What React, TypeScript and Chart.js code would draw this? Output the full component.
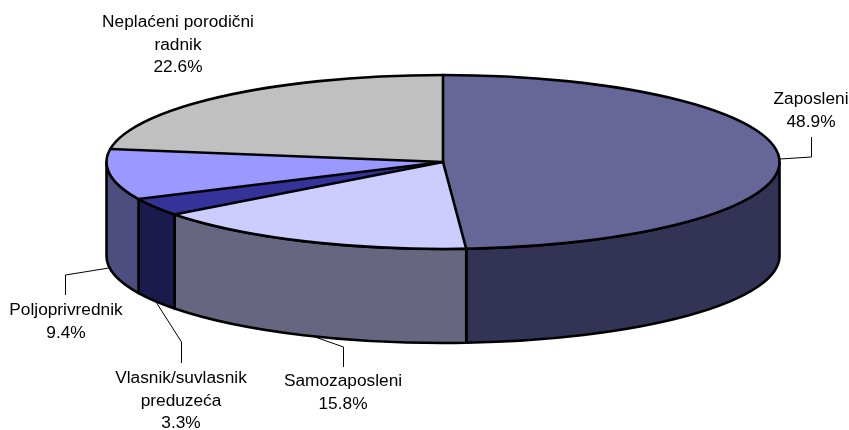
import React, { useEffect, useRef } from "react";
import { Chart, registerables } from "chart.js";

Chart.register(...registerables);

const categories = ["Zaposleni", "Samozaposleni", "Vlasnik/suvlasnik preduzeća", "Poljoprivrednik", "Neplaćeni porodični radnik"];
const labelLines = [["Zaposleni"], ["Samozaposleni"], ["Vlasnik/suvlasnik", "preduzeća"], ["Poljoprivrednik"], ["Neplaćeni porodični", "radnik"]];
const shares = [48.9, 15.8, 3.3, 9.4, 22.6];
const topColors = ["#666699", "#CCCCFF", "#333399", "#9999FF", "#C0C0C0"];
const wallColors = ["#333355", "#666680", "#1A1A4D", "#4D4D80", "#606060"];

const CX = 443;
const CY = 162;
const RX = 336.5;
const RY = 87;
const DEPTH = 94;
const labelAnchors = [
  { x: 811, y: 99 },
  { x: 343, y: 381 },
  { x: 181, y: 378 },
  { x: 66, y: 310 },
  { x: 178, y: 22 },
];
const leaders = [
  [[780, 159], [811.5, 157], [811.5, 137]],
  [[315, 337], [343.5, 347], [343.5, 367]],
  [[156, 302], [181.5, 342], [181.5, 363]],
  [[109, 268], [65.5, 275], [65.5, 295]],
];

const threeD = {
  id: "threeD",
  beforeDatasetsDraw(chart: any) {
    const { ctx } = chart;
    const arcs = chart.getDatasetMeta(0).data;
    ctx.save();
    ctx.lineJoin = "round";
    arcs.forEach((arc: any, i: number) => {
      const s = Math.max(arc.startAngle, 0);
      const e = Math.min(arc.endAngle, Math.PI);
      if (e <= s) return;
      ctx.beginPath();
      ctx.ellipse(CX, CY, RX, RY, 0, s, e);
      ctx.ellipse(CX, CY + DEPTH, RX, RY, 0, e, s, true);
      ctx.closePath();
      ctx.fillStyle = wallColors[i];
      ctx.fill();
      ctx.strokeStyle = "#000";
      ctx.lineWidth = 2.6;
      ctx.stroke();
    });
    ctx.restore();
    const a = arcs[0];
    ctx.save();
    ctx.translate(CX, CY);
    ctx.scale(RX / a.outerRadius, RY / a.outerRadius);
    ctx.translate(-a.x, -a.y);
  },
  afterDatasetsDraw(chart: any) {
    const { ctx } = chart;
    ctx.restore();
    const arcs = chart.getDatasetMeta(0).data;
    ctx.save();
    ctx.strokeStyle = "#000";
    ctx.lineWidth = 2.6;
    ctx.lineJoin = "round";
    ctx.lineCap = "round";
    arcs.forEach((arc: any) => {
      ctx.beginPath();
      ctx.moveTo(CX, CY);
      ctx.lineTo(CX + RX * Math.cos(arc.startAngle), CY + RY * Math.sin(arc.startAngle));
      ctx.stroke();
    });
    ctx.beginPath();
    ctx.ellipse(CX, CY, RX, RY, 0, 0, Math.PI * 2);
    ctx.stroke();

    ctx.lineWidth = 1;
    ctx.lineCap = "butt";
    ctx.lineJoin = "miter";
    leaders.forEach((pts) => {
      ctx.beginPath();
      pts.forEach(([x, y], j) => (j ? ctx.lineTo(x, y) : ctx.moveTo(x, y)));
      ctx.stroke();
    });

    ctx.fillStyle = "#000";
    ctx.font = '17.3px "Liberation Sans"';
    ctx.textAlign = "center";
    ctx.textBaseline = "middle";
    categories.forEach((_, i) => {
      const lines = [...labelLines[i], `${shares[i].toFixed(1)}%`];
      lines.forEach((t, j) => ctx.fillText(t, labelAnchors[i].x, labelAnchors[i].y + j * 22.8));
    });
    ctx.restore();
  },
};

export default function App() {
  const ref = useRef<HTMLCanvasElement>(null);
  useEffect(() => {
    document.body.style.margin = "0";
    document.body.style.background = "#fff";
    const chart = new Chart(ref.current!, {
      type: "pie",
      data: {
        labels: categories,
        datasets: [{ data: shares, backgroundColor: topColors, borderWidth: 0, clip: false } as any],
      },
      options: {
        responsive: false,
        animation: false,
        events: [],
        layout: { padding: 0 },
        plugins: { legend: { display: false }, tooltip: { enabled: false } },
      },
      plugins: [threeD],
    });
    return () => chart.destroy();
  }, []);
  return <canvas ref={ref} width={849} height={430} style={{ display: "block" }} />;
}
